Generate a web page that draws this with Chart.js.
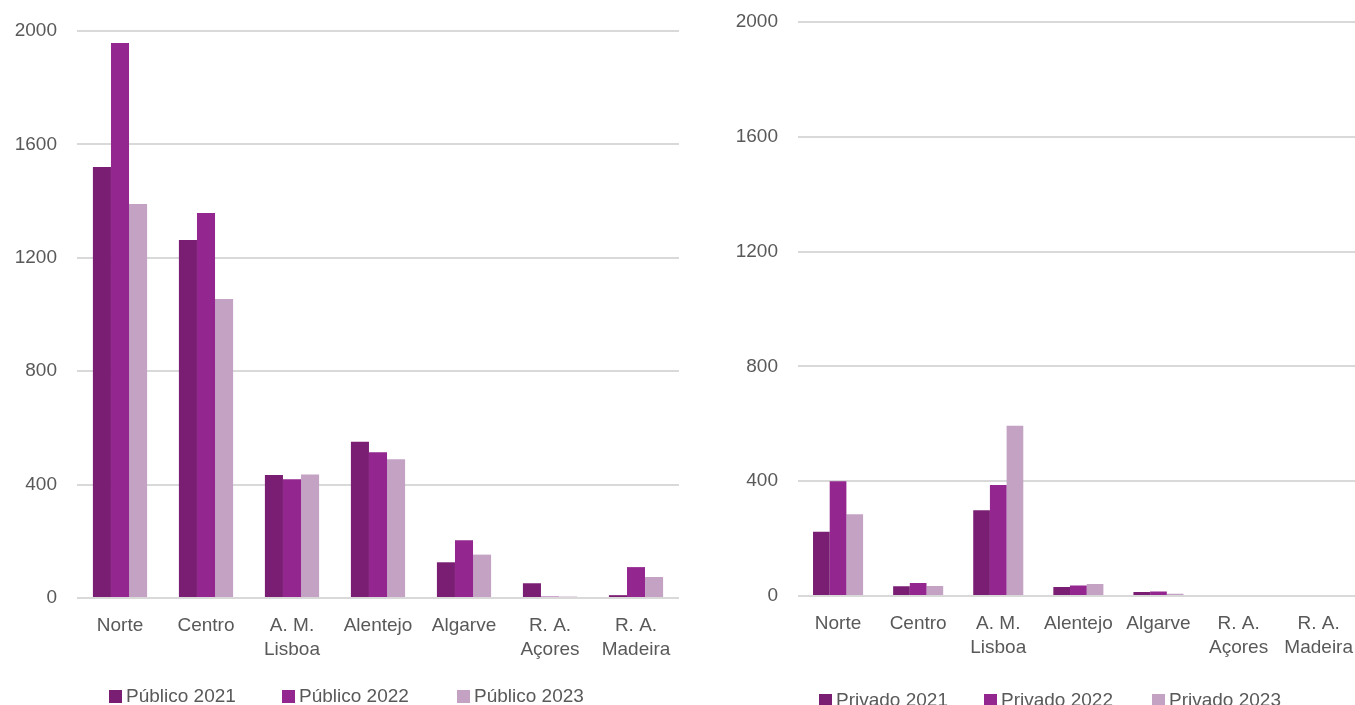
<!DOCTYPE html>
<html>
<head>
<meta charset="utf-8">
<script src="https://cdn.jsdelivr.net/npm/chart.js@4"></script>
<style>
  html, body { margin: 0; padding: 0; background: #fff; overflow: hidden; }
  .box { position: absolute; top: 0; height: 705px; }
  #boxPub { left: 0; width: 690px; }
  #boxPriv { left: 700px; width: 660px; }
  .legend { position: absolute; font: 19px 'Liberation Sans', Arial, sans-serif; color: #595959; }
  .legend span { position: absolute; white-space: nowrap; line-height: 22px; }
  .legend i { display: inline-block; width: 13px; height: 13px; margin-right: 4px; vertical-align: -1px; }
</style>
</head>
<body>
<div class="box" id="boxPub"><canvas id="chartPub"></canvas></div>
<div class="box" id="boxPriv"><canvas id="chartPriv"></canvas></div>
<div class="legend" id="legendPub" style="top:685px;left:0"></div>
<div class="legend" id="legendPriv" style="top:689px;left:0"></div>
<script>
// ── 데이터 ───────────────────────────────────────────
const regions = ['Norte', 'Centro', ['A. M.', 'Lisboa'], 'Alentejo', 'Algarve', ['R. A.', 'Açores'], ['R. A.', 'Madeira']];
const yTicks = [0, 400, 800, 1200, 1600, 2000];

const publicoNames = ['Público 2021', 'Público 2022', 'Público 2023'];
const publico2021 = [1520, 1263, 434, 551, 126, 52, 10];
const publico2022 = [1958, 1358, 419, 514, 204, 5, 109];
const publico2023 = [1390, 1055, 436, 489, 153, 5, 74];

const privadoNames = ['Privado 2021', 'Privado 2022', 'Privado 2023'];
const privado2021 = [224, 34, 299, 31, 14, 0, 0];
const privado2022 = [400, 45, 387, 37, 16, 0, 0];
const privado2023 = [285, 35, 593, 42, 8, 0, 0];

const COLORS = ['#7A1E73', '#93278F', '#C4A2C4'];
const FONT = "'Liberation Sans', Arial, sans-serif";
const TEXT = '#595959';
const GRID = '#d9d9d9';

function makeChart(canvasId, names, series, opts) {
  const canvas = document.getElementById(canvasId);
  return new Chart(canvas, {
    type: 'bar',
    data: {
      labels: regions,
      datasets: series.map((values, i) => ({
        label: names[i],
        data: values,
        backgroundColor: COLORS[i],
        borderWidth: 0,
        categoryPercentage: opts.catPct,
        barPercentage: 1,
      })),
    },
    options: {
      responsive: true,
      maintainAspectRatio: false,
      animation: false,
      layout: { padding: { top: opts.top, right: opts.right, bottom: 0, left: 0 } },
      plugins: {
        tooltip: { enabled: false },
        legend: { display: false },
      },
      scales: {
        x: {
          grid: { display: false },
          border: { display: false },
          ticks: {
            font: { family: FONT, size: 19, lineHeight: 1.3 },
            color: TEXT,
            padding: 7,
            maxRotation: 0,
            autoSkip: false,
          },
          afterFit: (scale) => { scale.height = opts.xHeight; },
        },
        y: {
          min: 0,
          max: 2000,
          afterBuildTicks: (scale) => { scale.ticks = yTicks.map(v => ({ value: v })); },
          grid: { color: GRID, lineWidth: 2, tickLength: 12, tickColor: 'rgba(0,0,0,0)' },
          border: { display: false },
          ticks: {
            font: { family: FONT, size: 19 },
            color: TEXT,
            padding: 8,
            callback: (val) => String(val),
          },
          afterFit: (scale) => { scale.width = opts.yWidth; },
        },
      },
    },
  });
}

// HTML 범례 (위치는 원본 이미지 기준)
function makeLegend(id, names, xs) {
  const el = document.getElementById(id);
  names.forEach((name, i) => {
    const s = document.createElement('span');
    s.style.left = xs[i] + 'px';
    s.innerHTML = `<i style="background:${COLORS[i]}"></i>`;
    s.appendChild(document.createTextNode(name));
    el.appendChild(s);
  });
}

makeChart('chartPub', publicoNames, [publico2021, publico2022, publico2023],
  { catPct: 0.63, top: 31, right: 11, yWidth: 77, xHeight: 107 });

makeChart('chartPriv', privadoNames, [privado2021, privado2022, privado2023],
  { catPct: 0.625, top: 22, right: 0, yWidth: 98, xHeight: 109 });

makeLegend('legendPub', publicoNames, [109, 282, 457]);
makeLegend('legendPriv', privadoNames, [819, 984, 1152]);
</script>
</body>
</html>
